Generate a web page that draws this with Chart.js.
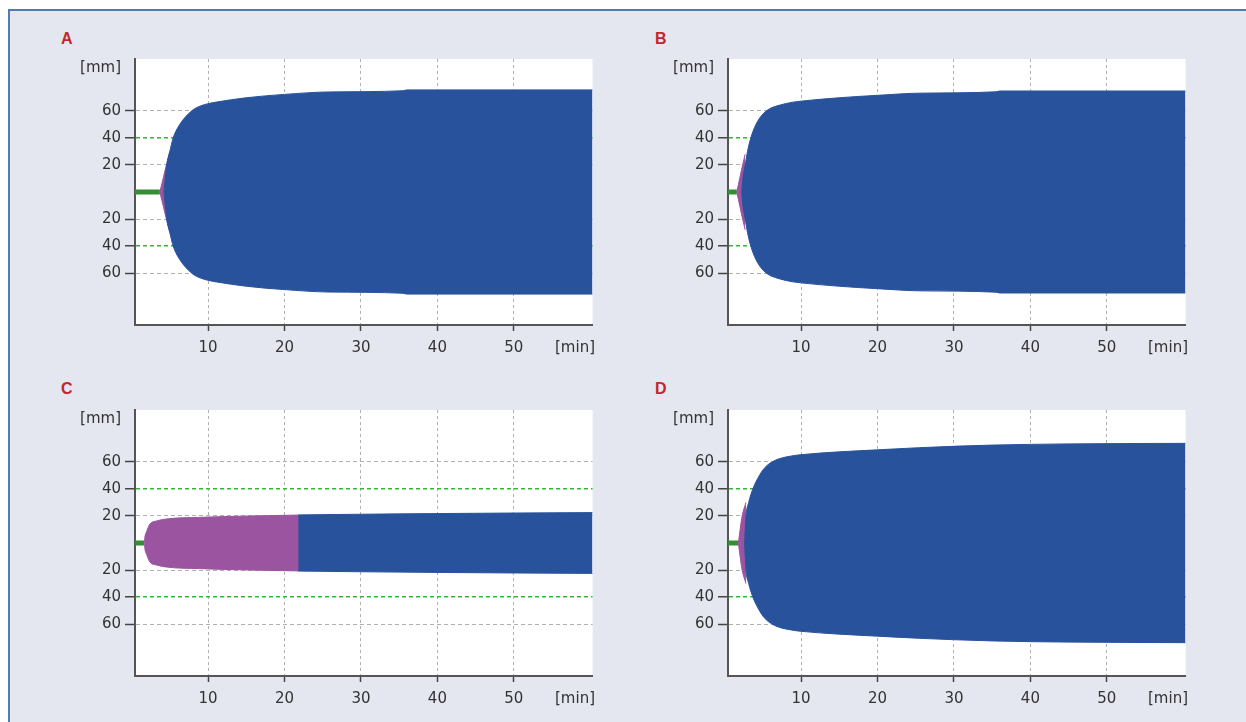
<!DOCTYPE html>
<html>
<head>
<meta charset="utf-8">
<script src="https://cdn.jsdelivr.net/npm/chart.js@4.4.0/dist/chart.umd.min.js"></script>
<style>
  body { margin: 0; width: 1246px; height: 722px; overflow: hidden; position: relative; background: #fff; }
  #frame { position: absolute; left: 8px; top: 9px; width: 1260px; height: 730px;
           border-left: 2px solid #4f7eae; border-top: 2px solid #4f7eae; background: #e4e7ef; }
  .panel { position: absolute; width: 563px; height: 310px; }
  .letter { position: absolute; font: bold 16px 'Liberation Sans', Arial, sans-serif; line-height: 16px; color: #c1272d; }
</style>
</head>
<body>
<div id="frame"></div>
<div class="letter" style="left:61px;top:31px">A</div>
<div class="letter" style="left:655px;top:31px">B</div>
<div class="letter" style="left:61px;top:381px">C</div>
<div class="letter" style="left:655px;top:381px">D</div>
<div class="panel" style="left:40px;top:46px"><canvas id="chartA" width="563" height="310"></canvas></div>
<div class="panel" style="left:633px;top:46px"><canvas id="chartB" width="563" height="310"></canvas></div>
<div class="panel" style="left:40px;top:397px"><canvas id="chartC" width="563" height="310"></canvas></div>
<div class="panel" style="left:633px;top:397px"><canvas id="chartD" width="563" height="310"></canvas></div>
<script>
// tick labels
var xTicks = [10, 20, 30, 40, 50];
var yTicks = [-60, -40, -20, 0, 20, 40, 60];

// A
var ctA = 3.7;
var magTimeA = [3.7, 4.6, 5.0];
var magAmpA = [0, 21, 30];
var timeA = [4.25, 4.4, 4.6, 5.0, 5.44, 6.3, 7.84, 8.7, 10, 11.1, 15, 20, 25.8, 35.5, 36, 60.3];
var ampA = [0, 10, 20, 30, 40, 50, 60, 63, 65.4, 66.6, 69.8, 72.3, 74.1, 75, 75.6, 75.6];

// B
var ctB = 1.6;
var magTimeB = [1.6, 2.4, 2.7];
var magAmpB = [0, 21, 28];
var timeB = [2.25, 2.4, 2.7, 3.0, 3.43, 4.1, 4.9, 5.7, 7.0, 8.9, 10, 15, 20, 25.5, 35.5, 36, 60.3];
var ampB = [0, 10, 20, 30, 40, 50, 57, 61, 64, 66.5, 67.3, 69.8, 71.6, 73.2, 74.2, 74.8, 74.8];

// C
var ctC = 1.66;
var magTimeC = [1.66, 1.74, 1.97, 2.4, 3.27, 4.57, 8.9, 15.4, 21.9];
var magAmpC = [0, 4.3, 8.5, 14, 16.3, 17.8, 19, 20, 20.7];
var timeC = [21.8, 30, 40, 50, 60.3];
var ampC = [20.8, 21.3, 21.8, 22.2, 22.5];

// D
var ctD = 1.8;
var magTimeD = [1.8, 2.3, 2.8];
var magAmpD = [0, 20, 30];
var timeD = [2.62, 2.7, 2.8, 3.15, 3.7, 4.55, 5.3, 6.2, 7.2, 8.8, 10, 15, 20, 25.5, 35, 45, 60.3];
var ampD = [0, 10, 20, 30, 40, 50, 56, 60, 62.5, 64.5, 65.4, 67.5, 69, 70.6, 72.5, 73.4, 73.8];

var BLUE = '#28539c';
var MAGENTA = '#9b55a0';
var GREEN = '#378c37';
var NONE = 'rgba(0,0,0,0)';
var font = { family: 'DejaVu Sans', size: 15 };

// tick lists incl. the unit labels
var xAll = xTicks.concat([58]);
var yAll = yTicks.concat([92]);
var xGrid = xAll.map(function (v) { return v === 58 ? NONE : '#b0b0b0'; });
var xTickCol = xAll.map(function (v) { return v === 58 ? NONE : '#444'; });
var yGrid = yAll.map(function (v) {
    if (v === 0 || v === 92) return NONE;
    return Math.abs(v) === 40 ? '#34b834' : '#b0b0b0';
});
var yGridW = yAll.map(function (v) { return Math.abs(v) === 40 ? 1.5 : 1; });
var yTickCol = yAll.map(function (v) { return (v === 0 || v === 92) ? NONE : '#444'; });

var whiteArea = {
    id: 'whiteArea',
    beforeDraw: function (chart) {
        var a = chart.chartArea;
        chart.ctx.save();
        chart.ctx.fillStyle = '#fff';
        chart.ctx.fillRect(a.left, a.top, a.right - a.left, a.bottom - a.top);
        chart.ctx.restore();
    }
};

function pts(t, a, sign) {
    return t.map(function (x, i) { return { x: x, y: sign * a[i] }; });
}

function band(t, a, color) {
    var line = { pointRadius: 0, borderWidth: 1, borderColor: color, backgroundColor: color,
                 cubicInterpolationMode: 'monotone' };
    return [
        Object.assign({ data: pts(t, a, 1), fill: '+1' }, line),
        Object.assign({ data: pts(t, a, -1), fill: false }, line)
    ];
}

function makeChart(id, ct, magT, magA, t, a) {
    var datasets = [].concat(
        band(t, a, BLUE),
        band(magT, magA, MAGENTA),
        [{ data: [{ x: 0, y: 0 }, { x: ct, y: 0 }], borderColor: GREEN, borderWidth: 5,
           pointRadius: 0, fill: false }]
    );
    new Chart(document.getElementById(id), {
        type: 'line',
        data: { datasets: datasets },
        plugins: [whiteArea],
        options: {
            responsive: false,
            animation: false,
            layout: { padding: { top: 10, right: 0 } },
            plugins: { legend: { display: false }, tooltip: { enabled: false } },
            scales: {
                x: {
                    type: 'linear', min: 0.45, max: 60.3,
                    afterBuildTicks: function (s) {
                        s.ticks = xAll.map(function (v) { return { value: v }; });
                    },
                    afterFit: function (s) { s.height = 31; },
                    ticks: {
                        autoSkip: false, maxRotation: 0, padding: 8, font: font, color: '#333',
                        callback: function (v) { return v === 58 ? '[min]' : v; }
                    },
                    grid: { color: xGrid, tickColor: xTickCol, tickLength: 6, tickWidth: 1.5, lineWidth: 1 },
                    border: { color: '#555', width: 2, dash: [3, 3] }
                },
                y: {
                    type: 'linear', min: -98.5, max: 98.5,
                    afterBuildTicks: function (s) {
                        s.ticks = yAll.map(function (v) { return { value: v }; });
                    },
                    afterFit: function (s) { s.width = 95; },
                    ticks: {
                        autoSkip: false, padding: 4, font: font, color: '#333',
                        callback: function (v) {
                            if (v === 92) return '[mm]';
                            if (v === 0) return '';
                            return Math.abs(v);
                        }
                    },
                    grid: { color: yGrid, tickColor: yTickCol, tickLength: 10, tickWidth: 1.5, lineWidth: yGridW },
                    border: { color: '#555', width: 2, dash: [4, 3] }
                }
            }
        }
    });
}

makeChart('chartA', ctA, magTimeA, magAmpA, timeA, ampA);
makeChart('chartB', ctB, magTimeB, magAmpB, timeB, ampB);
makeChart('chartC', ctC, magTimeC, magAmpC, timeC, ampC);
makeChart('chartD', ctD, magTimeD, magAmpD, timeD, ampD);
</script>
</body>
</html>
